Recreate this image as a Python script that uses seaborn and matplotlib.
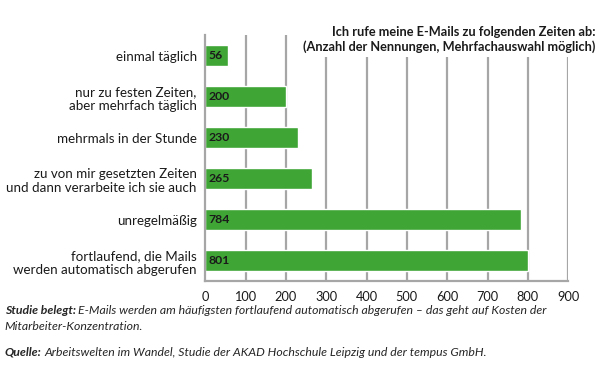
import matplotlib
matplotlib.use("Agg")
import matplotlib.pyplot as plt
import seaborn as sns
import pandas as pd
import numpy as np

categories = [
    "einmal täglich",
    "nur zu festen Zeiten,\naber mehrfach täglich",
    "mehrmals in der Stunde",
    "zu von mir gesetzten Zeiten\nund dann verarbeite ich sie auch",
    "unregelmäßig",
    "fortlaufend, die Mails\nwerden automatisch abgerufen",
]
counts = [56, 200, 230, 265, 784, 801]
x_ticks = [0, 100, 200, 300, 400, 500, 600, 700, 800, 900]

df = pd.DataFrame({"Zeit": categories, "Nennungen": counts})

sns.set_style("white")
plt.rcParams["font.family"] = ["Lato", "DejaVu Sans"]

fig = plt.figure(figsize=(6, 3.7), dpi=100)
ax = fig.add_axes([0.342, 0.24, 0.605, 0.665])

grid_col = "#a6a6a6"
for xv in x_ticks[1:]:
    ax.axvline(xv, color=grid_col, lw=1.6, zorder=0)

sns.barplot(data=df, y="Zeit", x="Nennungen", orient="h", color="#3fa535",
            saturation=1, width=0.5, ax=ax, zorder=2)

for p, v in zip(ax.patches, counts):
    ax.text(p.get_x() + 8, p.get_y() + p.get_height() / 2, str(v),
            va="center", ha="left", fontsize=8.8, fontweight="bold",
            color="#1a1a1a", zorder=3)

ax.set_xlim(0, 900)
ax.set_ylim(len(categories) - 0.5, -0.5)
ax.set_xticks(x_ticks)
ax.set_xlabel("")
ax.set_ylabel("")
ax.tick_params(axis="x", labelsize=9.2, length=4, width=1.2, color=grid_col,
               labelcolor="#1a1a1a", direction="out", pad=3)
ax.tick_params(axis="y", labelsize=9.6, length=0, pad=6, labelcolor="#1a1a1a")
ax.set_yticks(np.arange(-0.5, len(categories)), minor=True)
ax.tick_params(axis="y", which="minor", length=4, width=1.2, color=grid_col)
for lbl in ax.get_yticklabels():
    lbl.set_linespacing(1.2)

for s in ["top", "right"]:
    ax.spines[s].set_visible(False)
for s in ["left", "bottom"]:
    ax.spines[s].set_color(grid_col)
    ax.spines[s].set_linewidth(1.6)

# title box sits over the upper grid lines, as in the original
fig.text(0.992, 0.893, "Ich rufe meine E-Mails zu folgenden Zeiten ab:\n"
         "(Anzahl der Nennungen, Mehrfachauswahl möglich)",
         ha="right", va="center", fontsize=9.2, fontweight="bold",
         color="#1a1a1a", linespacing=1.25, zorder=5,
         bbox=dict(facecolor="white", edgecolor="none", pad=3))

fig.canvas.draw()
renderer = fig.canvas.get_renderer()
cap_size = 8.8


def caption(x, y, bold_part, rest):
    t = fig.text(x, y, bold_part, fontsize=cap_size, style="italic",
                 fontweight="bold", va="center")
    if rest:
        bb = t.get_window_extent(renderer=renderer)
        x2 = bb.x1 / fig.bbox.width + 0.004
        fig.text(x2, y, rest, fontsize=cap_size, style="italic", va="center")


caption(0.008, 0.16, "Studie belegt:", "E-Mails werden am häufigsten "
        "fortlaufend automatisch abgerufen – das geht auf Kosten der")
fig.text(0.008, 0.117, "Mitarbeiter-Konzentration.", fontsize=cap_size,
         style="italic", va="center")
caption(0.008, 0.048, "Quelle:", "Arbeitswelten im Wandel, Studie der AKAD "
        "Hochschule Leipzig und der tempus GmbH.")

fig.savefig("out.png", dpi=100)
